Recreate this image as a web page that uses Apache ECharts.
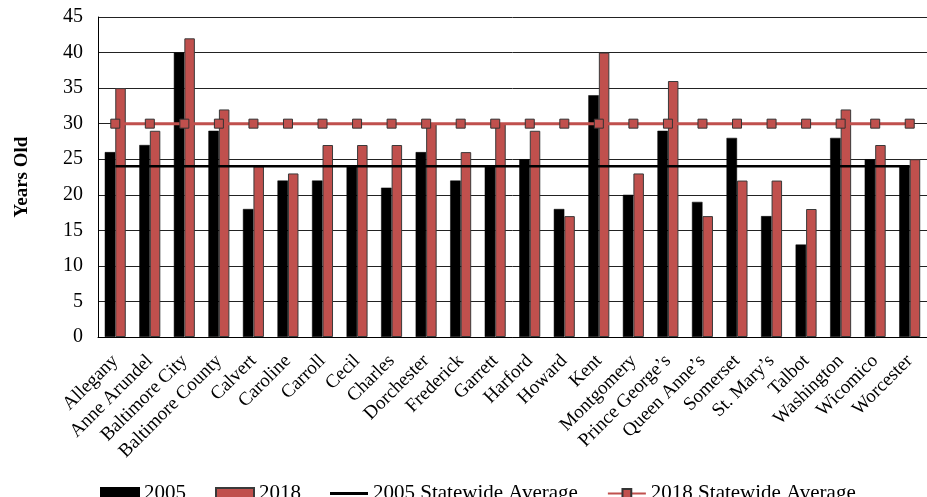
<!DOCTYPE html>
<html>
<head>
<meta charset="utf-8">
<script src="https://cdn.jsdelivr.net/npm/echarts@6/dist/echarts.min.js"></script>
<style>
  html, body { margin: 0; padding: 0; background: #fff; }
  #main { width: 927px; height: 497px; }
</style>
</head>
<body>
<div id="main"></div>
<script>
  // counties
  const counties = ['Allegany', 'Anne Arundel', 'Baltimore City', 'Baltimore County', 'Calvert', 'Caroline',
    'Carroll', 'Cecil', 'Charles', 'Dorchester', 'Frederick', 'Garrett', 'Harford', 'Howard', 'Kent',
    'Montgomery', 'Prince George\u2019s', 'Queen Anne\u2019s', 'Somerset', 'St. Mary\u2019s', 'Talbot',
    'Washington', 'Wicomico', 'Worcester'];

  // years old
  const age2005 = [26, 27, 40, 29, 18, 22, 22, 24, 21, 26, 22, 24, 25, 18, 34, 20, 29, 19, 28, 17, 13, 28, 25, 24];
  const age2018 = [35, 29, 42, 32, 24, 23, 27, 27, 27, 30, 26, 30, 29, 17, 40, 23, 36, 17, 22, 22, 18, 32, 27, 25];

  // statewide averages
  const avg2005 = [24, 24, 24, 24, 24, 24, 24, 24, 24, 24, 24, 24, 24, 24, 24, 24, 24, 24, 24, 24, 24, 24, 24, 24];
  const avg2018 = [30, 30, 30, 30, 30, 30, 30, 30, 30, 30, 30, 30, 30, 30, 30, 30, 30, 30, 30, 30, 30, 30, 30, 30];

  const yTicks = { min: 0, max: 45, interval: 5 };

  const serif = '"Liberation Serif", "Times New Roman", serif';
  const red = '#C0504D';

  const chart = echarts.init(document.getElementById('main'));

  const option = {
    animation: false,
    textStyle: { fontFamily: serif, color: '#000' },
    grid: { left: 98, top: 17, width: 836, height: 320, containLabel: false },
    legend: {
      left: 100,
      top: 483,
      padding: 0,
      itemGap: 29,
      itemWidth: 38,
      itemHeight: 11,
      textStyle: { fontFamily: serif, fontSize: 21, color: '#000' },
      data: [
        { name: '2005', icon: 'rect' },
        { name: '2018', icon: 'rect' },
        { name: '2005 Statewide Average', icon: 'path://M0 0H38V3H0Z' },
        '2018 Statewide Average'
      ]
    },
    xAxis: {
      type: 'category',
      data: counties,
      axisLine: { lineStyle: { color: '#000', width: 1 } },
      axisTick: { show: false },
      axisLabel: {
        rotate: 45,
        interval: 0,
        margin: 21,
        fontFamily: serif,
        fontSize: 19,
        color: '#000'
      }
    },
    yAxis: {
      type: 'value',
      min: yTicks.min,
      max: yTicks.max,
      interval: yTicks.interval,
      name: 'Years Old',
      nameLocation: 'middle',
      nameRotate: 90,
      nameGap: 66,
      nameTextStyle: { fontFamily: serif, fontSize: 19, fontWeight: 'bold', color: '#000' },
      axisLine: { show: true, lineStyle: { color: '#000', width: 1 } },
      axisTick: { show: false },
      axisLabel: { fontFamily: serif, fontSize: 20, color: '#000', margin: 15 },
      splitLine: { lineStyle: { color: '#222', width: 1 } }
    },
    series: [
      {
        name: '2005',
        type: 'bar',
        data: age2005,
        barWidth: 10.5,
        barGap: '0%',
        itemStyle: { color: '#000', borderColor: '#000', borderWidth: 0.5 }
      },
      {
        name: '2018',
        type: 'bar',
        data: age2018,
        barWidth: 10.5,
        barGap: '0%',
        itemStyle: { color: red, borderColor: '#3a3a3a', borderWidth: 1 }
      },
      {
        name: '2005 Statewide Average',
        type: 'line',
        data: avg2005,
        symbol: 'none',
        z: 5,
        lineStyle: { color: '#000', width: 2.5 },
        itemStyle: { color: '#000' }
      },
      {
        name: '2018 Statewide Average',
        type: 'line',
        data: avg2018,
        symbol: 'rect',
        symbolSize: 9,
        z: 6,
        lineStyle: { color: red, width: 3 },
        itemStyle: { color: red, borderColor: '#333', borderWidth: 1 }
      }
    ]
  };

  chart.setOption(option);
</script>
</body>
</html>
